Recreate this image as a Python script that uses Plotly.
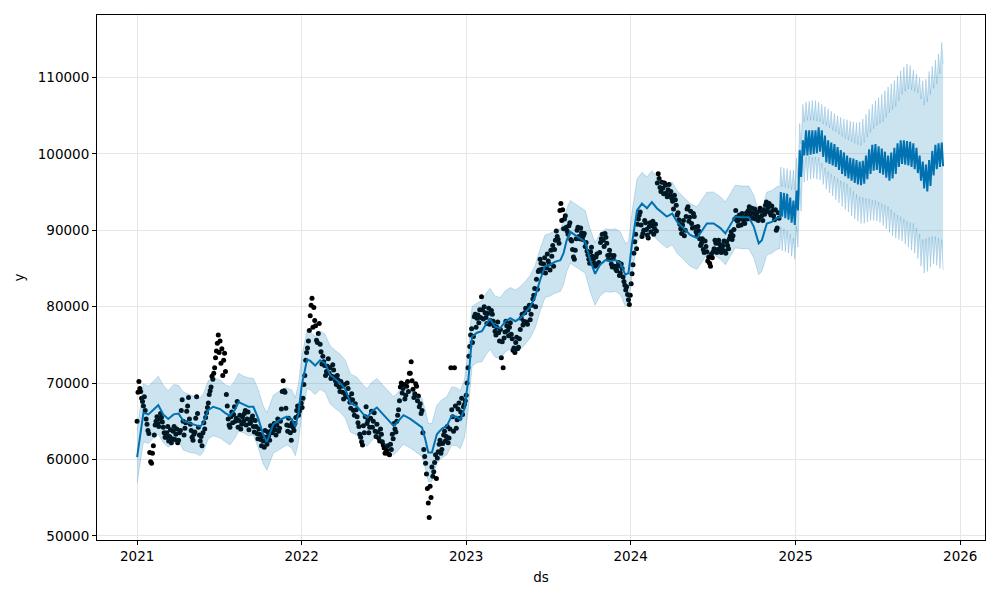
import pandas as pd
import plotly.graph_objects as go

# ---------------- observations ----------------
# series A: every 4 days from 2021-01-01
obs_start = "2021-01-01"
obs_step_days = 4
obs_y = [
    65000, 70200, 68900, 67600, 68200, 65300, 63800, 60900,
    59500, 61800, 64500, 65600, 64300, 66000, 64900, 63500,
    62900, 64300, 63000, 62200, 63700, 62600, 64000, 62500,
    63800, 67800, 63200, 64800, 67000, 65300, 63800, 62500,
    63600, 68200, 64200, 62400, 61800, 64800, 65500, 66800,
    68500, 69500, 70500, 72000, 74200, 76300, 75500, 74500,
    73000, 71500, 67000, 64500, 65600, 64800, 66900, 65400,
    64200, 65800, 64600, 65000, 66400, 65300, 63900, 64900,
    65700, 63600, 64300, 62700, 63300, 61800, 62400, 63800,
    62000, 63100, 64400, 63500, 64700, 63200, 65300, 64100,
    66600, 70300, 68800, 64500, 65400, 63500, 64800, 63800,
    65500, 67000, 66300, 67400,
    68000, 71000, 74000, 75500, 78800, 81100, 79900, 77500,
    75300, 77800, 74100, 73500, 72300, 71500, 73200, 72000,
    70900, 71700, 70300, 71000, 69500, 70200, 68800, 69800,
    68200, 69300, 67500, 68600, 66400, 67300, 65600, 64300,
    62900, 61900, 63500, 66900, 65100, 64200, 66300, 65000,
    63700, 64600, 62800, 64000, 62300, 61500, 60900, 61800,
    60600, 61300, 62700, 64000, 65000, 66500, 69500, 68700,
    69800, 68400, 70200, 71300, 72800, 69200, 68600, 69600,
    68300, 67300, 66400, 61300, 59500, 56200, 52400, 55000,
    57800, 59600, 57500, 61000, 62500, 61300, 63200, 62400,
    64300, 62800, 72000, 65600, 72000, 64100, 66600, 65400,
    68000, 66900, 67700,
    70000, 73500, 76300, 75300, 78700, 77300, 78900, 79600,
    81300, 78400, 79200, 77800, 79800, 78200, 79000, 77500,
    76300, 78000, 75500, 73300, 72000, 76700, 77500, 76200,
    77900, 75800, 74600, 75300, 74500, 75800, 78500, 77600,
    79200, 78000, 79600, 78300, 80200, 81500, 80000, 82300,
    84800, 85700, 84500, 86400, 85100, 86000, 84800, 86600,
    85300, 88700, 89200, 88300, 93500, 92700, 91500, 90400,
    89500, 91000, 88600, 86500, 87400, 90000, 89200, 90300,
    88800, 89600, 88400, 86800, 85700, 87800, 86200, 85300,
    86900, 85800, 88400, 89500, 87900, 89100, 86700, 87400,
    85600, 86300, 85300, 84700, 85800, 84400, 85000, 83300,
    82200, 81600, 80300,
    83000, 85500, 88500, 87600, 91500, 92400, 89200, 90000,
    91000, 89400, 90500, 89800, 91200, 90200, 89900, 97400,
    95600, 96300, 94800, 95900, 94400, 96000, 95100, 93800,
    94600, 93300, 92300, 90800, 89600, 91300, 90000, 92800,
    91200, 92500, 90300, 91800, 89800, 90500, 88900, 88300,
    87500, 88600, 87200, 86500, 85300, 86400, 87600, 88300,
    87500, 88200, 87100, 88000, 87300, 88500, 87600, 89300,
    88800, 90100, 92600, 91200, 92000, 90700, 91600, 90900,
    92300, 92600, 91900, 92900, 92200, 91500, 92400, 91700,
    92500, 91300, 92100, 93700, 93000, 92300, 93200, 91900,
    92700, 90300, 91600,
]
# series B: every 4 days from 2021-01-03 (the days in between)
obs_start_b = "2021-01-03"
obs_y_b = [
    68800, 69300, 68000, 67000, 66400, 64600, 63400, 59700,
    60800, 63200, 65000, 64700, 65300, 65500, 64200, 62900,
    63500, 62400, 63900, 62700, 64300, 63300, 62200, 63500,
    66400, 65000, 64100, 66300, 68100, 64600, 62900, 63300,
    65400, 66000, 63200, 63000, 63500, 64000, 66100, 67400,
    69000, 70900, 71300, 73300, 75200, 74000, 72600, 71000,
    73900, 68500, 65300, 64200, 66200, 65900, 65000, 67600,
    65100, 64000, 65600, 66000, 64500, 66200, 64700, 65400,
    64300, 65100, 63400, 64000, 62600, 63100, 61600, 62900,
    63600, 62500, 63800, 64200, 63900, 64500, 63700, 65000,
    68900, 69000, 66700, 63700, 64400, 62500, 64200, 64700,
    66400, 65800, 66700, 66800, 69800, 73000, 74600, 76900,
    80200, 77300, 78200, 75600, 76500, 75100, 72500, 72800,
    71000, 72200, 71300, 70600, 72400, 70800, 69800, 70400,
    68900, 69600, 67900, 68500, 70000, 68100, 66700, 67800,
    65800, 66500, 64800, 63300, 62300, 64400, 65600, 64700,
    63500, 65400, 64200, 66100, 63000, 63600, 62400, 63300,
    61900, 60800, 61200, 60700, 62000, 63300, 64700, 63600,
    65800, 67700, 70000, 69300, 67900, 69600, 68900, 71300,
    70300, 68100, 69900, 67700, 66900, 66000, 63500, 60400,
    58100, 54300, 56500, 59000, 58400, 60600, 60200, 62000,
    60800, 62100, 63700, 63000, 62200, 64000, 66500, 63700,
    67000, 65200, 67400, 66200, 65900, 67200, 68400, 72000,
    74800, 77100, 76100, 79000, 78500, 77900, 78600, 79600,
    80000, 78600, 79100, 77700, 79500, 78100, 76800, 77300,
    76600, 77000, 75400, 75900, 78100, 76900, 77300, 76400,
    74300, 74000, 76000, 74700, 77000, 79000, 78100, 79800,
    77700, 80200, 79000, 81000, 82400, 83600, 84600, 86200,
    84900, 85600, 84400, 86900, 85600, 87400, 88000, 87500,
    89900, 88800, 92600, 91300, 90200, 91900, 89900, 90600,
    88800, 87500, 86200, 88900, 90400, 88900, 89700, 89300,
    87900, 87300, 86200, 87200, 86600, 85700, 86500, 85500,
    87100, 88900, 88700, 89600, 88300, 86200, 86800, 85200,
    86700, 84900, 85300, 84100, 85600, 83900, 82800, 82600,
    80900, 81500, 84300, 87000, 89500, 90800, 92000, 90700,
    89600, 91300, 90100, 89000, 91000, 90600, 89500, 90800,
    96200, 96800, 95100, 95500, 96200, 94900, 95300, 94600,
    94200, 92800, 94000, 92000, 91400, 90200, 90700, 89300,
    91800, 93100, 91700, 90900, 92200, 90400, 89300, 89900,
    88000, 88900, 87100, 87900, 86000, 85700, 86900, 87200,
    88700, 87100, 88700, 87700, 87500, 88600, 87000, 88000,
    88900, 89800, 89300, 91500, 91700, 90600, 91500, 92200,
    91100, 91800, 91500, 93100, 92300, 91600, 92800, 92000,
    91300, 92900, 91900, 92700, 93300, 92500, 93500, 92000,
    92600, 91400, 90000, 92300,
]

# ---------------- in-sample forecast ----------------
hist_ds = [
    "2021-01-01", "2021-01-15", "2021-01-26", "2021-02-06", "2021-02-17", "2021-02-28",
    "2021-03-11", "2021-03-23", "2021-04-03", "2021-04-14", "2021-04-29", "2021-05-10",
    "2021-05-21", "2021-05-28", "2021-06-08", "2021-06-19", "2021-07-04", "2021-07-15",
    "2021-07-26", "2021-08-06", "2021-08-14", "2021-08-25", "2021-09-05", "2021-09-16",
    "2021-09-27", "2021-10-08", "2021-10-16", "2021-10-30", "2021-11-14", "2021-11-29",
    "2021-12-10", "2021-12-18", "2021-12-25",
    "2022-01-01", "2022-01-13", "2022-01-20", "2022-01-31", "2022-02-11", "2022-02-22",
    "2022-03-05", "2022-03-16", "2022-03-27", "2022-04-08", "2022-04-19", "2022-05-03",
    "2022-05-18", "2022-05-26", "2022-06-06", "2022-06-17", "2022-06-28", "2022-07-09",
    "2022-07-24", "2022-07-31", "2022-08-15", "2022-08-30", "2022-09-14", "2022-09-25",
    "2022-10-02", "2022-10-09", "2022-10-17", "2022-10-28", "2022-11-08", "2022-11-19",
    "2022-11-30", "2022-12-11", "2022-12-19", "2022-12-28",
    "2023-01-06", "2023-01-14", "2023-01-25", "2023-02-05", "2023-02-16", "2023-02-23",
    "2023-03-06", "2023-03-18", "2023-03-29", "2023-04-09", "2023-04-20", "2023-05-01",
    "2023-05-12", "2023-05-23", "2023-06-03", "2023-06-14", "2023-06-25", "2023-07-06",
    "2023-07-18", "2023-07-29", "2023-08-05", "2023-08-12", "2023-08-20", "2023-08-31",
    "2023-09-11", "2023-09-22", "2023-10-03", "2023-10-14", "2023-10-25", "2023-11-06",
    "2023-11-17", "2023-11-28", "2023-12-09", "2023-12-20", "2023-12-27",
    "2024-01-04", "2024-01-15", "2024-01-26", "2024-02-06", "2024-02-17", "2024-02-28",
    "2024-03-10", "2024-03-21", "2024-04-02", "2024-04-13", "2024-04-27", "2024-05-12",
    "2024-05-27", "2024-06-07", "2024-06-18", "2024-07-03", "2024-07-18", "2024-07-29",
    "2024-08-09", "2024-08-20", "2024-09-04", "2024-09-19", "2024-09-30", "2024-10-11",
    "2024-10-18", "2024-10-29", "2024-11-09", "2024-11-20", "2024-11-27",
]
hist_yhat = [
    60300, 66100, 65900, 66500, 67100, 65900, 65300, 65900, 66000, 65000, 64700, 64500,
    64300, 64800, 66500, 66900, 66600, 66100, 65700, 66500, 67500, 67200, 66900, 66900,
    65300, 63200, 62300, 64600, 65200, 65600, 65300, 64300, 66100,
    69600, 73100, 72900, 72300, 73000, 72600, 71100, 70500, 70000, 69200, 67400, 67000,
    65900, 65500, 66300, 66800, 66100, 65300, 64400, 64800, 65800, 65300, 64700, 64200,
    62700, 60900, 60900, 63300, 64000, 64400, 65700, 65600, 65200, 66600,
    70500, 76100, 76600, 76800, 77900, 78400, 77400, 77200, 78100, 78500, 78100, 78500,
    79200, 80000, 81300, 83500, 85300, 85500, 85900, 86100, 87000, 88700, 89800, 89400,
    89000, 88500, 86100, 84300, 85500, 86100, 86000, 86100, 85700, 84200, 84400,
    88300, 92600, 93500, 92900, 93700, 92900, 92400, 91800, 92200, 91100, 90300, 89400,
    89000, 90000, 90900, 90900, 90300, 89600, 90700, 91800, 91700, 91700, 90500, 88300,
    88700, 90900, 91100, 91600, 91700,
]
hist_upper = [
    63800, 69900, 69600, 70200, 70900, 69700, 69000, 69800, 69700, 68800, 68500, 68200,
    68100, 68600, 70300, 70700, 70400, 69800, 69500, 70300, 71300, 70900, 70700, 70600,
    69100, 67000, 66100, 68400, 69000, 69400, 69100, 68100, 69900,
    73400, 76900, 76700, 76100, 76800, 76400, 74900, 74300, 73800, 73000, 71200, 70800,
    69700, 69300, 70100, 70600, 69900, 69100, 68200, 68600, 69600, 69100, 68500, 68000,
    66500, 64700, 64700, 67100, 67800, 68200, 69500, 69400, 69000, 70400,
    74400, 80000, 80500, 80800, 81900, 82400, 81400, 81200, 82100, 82500, 82200, 82600,
    83300, 84100, 85400, 87600, 89400, 89600, 90000, 90200, 91100, 92800, 93900, 93500,
    93100, 92600, 90200, 88400, 89600, 90200, 90100, 90200, 89800, 88300, 88500,
    92400, 96700, 97600, 97000, 97800, 97000, 96500, 95900, 96300, 95200, 94400, 93500,
    93100, 94100, 95000, 95000, 94400, 93700, 94800, 95900, 95800, 95800, 94600, 92400,
    92800, 95000, 95200, 95700, 95800,
]
hist_lower = [
    56900, 62300, 62100, 62800, 63300, 62200, 61600, 62100, 62300, 61200, 60900, 60800,
    60500, 61000, 62700, 63100, 62800, 62400, 61900, 62800, 63700, 63500, 63100, 63200,
    61500, 59400, 58600, 60800, 61400, 61900, 61500, 60500, 62300,
    65800, 69300, 69100, 68500, 69200, 68800, 67300, 66700, 66200, 65400, 63600, 63200,
    62100, 61700, 62500, 63000, 62300, 61500, 60600, 61000, 62000, 61500, 60900, 60400,
    58900, 57100, 57100, 59500, 60200, 60600, 61900, 61800, 61400, 62800,
    66600, 72200, 72700, 72800, 73900, 74400, 73400, 73200, 74100, 74500, 74000, 74400,
    75100, 75900, 77200, 79400, 81200, 81400, 81800, 82000, 82900, 84600, 85700, 85300,
    84900, 84400, 82000, 80200, 81400, 82000, 81900, 82000, 81600, 80100, 80300,
    84200, 88500, 89400, 88800, 89600, 88800, 88300, 87700, 88100, 87000, 86200, 85300,
    84900, 85900, 86800, 86800, 86200, 85500, 86600, 87700, 87600, 87600, 86400, 84200,
    84600, 86800, 87000, 87500, 87600,
]

# ---------------- future forecast (weekly high / low values) ----------------
fut_start = "2024-11-28"
fut_yhat_hi = [
    95000, 94900, 94800, 94300, 93900, 95200, 100500, 101800, 103100, 103100,
    103100, 103100, 103500, 103100, 102400, 101800, 101500, 101300, 100900, 100500,
    100200, 99800, 99500, 99400, 99200, 99000, 99100, 99800, 100600, 101200,
    101300, 101000, 100700, 100300, 99800, 100200, 100800, 101400, 101800, 101800,
    101700, 101600, 101400, 100800, 99800, 99000, 98600, 99200, 100400, 101200,
    101400, 101500,
]
fut_yhat_lo = [
    91800, 91600, 91400, 91000, 90700, 92600, 97000, 99800, 99800, 99900,
    100000, 100100, 100300, 99600, 98900, 98700, 98500, 98300, 97900, 97400,
    97100, 96800, 96500, 96200, 96000, 95900, 96100, 96700, 97400, 97800,
    97900, 97500, 97300, 96900, 96500, 96800, 97400, 98300, 98700, 98600,
    98500, 98300, 98000, 97500, 96500, 95500, 95100, 95800, 97200, 98000,
    98300, 98400,
]
fut_upper_hi = [
    98300, 98200, 98100, 97900, 97900, 99500, 104000, 106500, 106800, 106900,
    107000, 107000, 106800, 106500, 106200, 105900, 105600, 105300, 105000, 104800,
    104600, 104500, 104300, 104200, 104100, 104200, 104600, 105200, 105900, 106500,
    107000, 107400, 107800, 108300, 108800, 109200, 109600, 110200, 110900, 111400,
    111800, 111600, 111000, 110500, 110000, 109600, 109800, 110800, 111500, 112300,
    113100, 114600,
]
fut_upper_lo = [
    95700, 95600, 95500, 95300, 95300, 96800, 101300, 104200, 104400, 104400,
    104400, 104300, 104200, 103900, 103700, 103400, 103100, 102900, 102600, 102300,
    102000, 101800, 101600, 101400, 101200, 101100, 101500, 102200, 102800, 103300,
    103700, 104000, 104200, 104800, 105400, 105800, 106200, 107000, 107800, 108200,
    108500, 108400, 108200, 108000, 107200, 106400, 106800, 107800, 108600, 109200,
    110500, 111800,
]
fut_lower_hi = [
    90400, 90200, 89900, 89500, 89000, 90500, 95500, 99300, 99600, 99700,
    99600, 99600, 99500, 98800, 98200, 97700, 97400, 97100, 96800, 96500,
    96300, 96100, 95600, 95100, 94700, 94400, 94300, 94200, 94100, 94000,
    93900, 93700, 93500, 93300, 93100, 92700, 92300, 92000, 91800, 91500,
    91200, 91000, 90900, 90300, 89500, 88800, 88900, 89100, 89200, 89200,
    89000, 88800,
]
fut_lower_lo = [
    87300, 87200, 87000, 86600, 86200, 87800, 92500, 96300, 96500, 96700,
    96800, 96700, 96600, 96000, 95400, 94900, 94500, 94000, 93600, 93100,
    92700, 92400, 91900, 91500, 91200, 90900, 90900, 91100, 91300, 91300,
    91200, 91000, 90600, 90200, 89700, 89300, 89000, 88800, 88600, 88200,
    87800, 87400, 87000, 86300, 85300, 84400, 84600, 85200, 85600, 85400,
    85000, 84800,
]

year_ticks = [2021, 2022, 2023, 2024, 2025, 2026]
y_ticks = [50000, 60000, 70000, 80000, 90000, 100000, 110000]

# ---------------- assemble ----------------
obs_ds_a = pd.date_range(obs_start, periods=len(obs_y), freq=f"{obs_step_days}D")
obs_ds_b = pd.date_range(obs_start_b, periods=len(obs_y_b), freq=f"{obs_step_days}D")
obs_ds = list(obs_ds_a) + list(obs_ds_b)
obs_all = obs_y + obs_y_b

base = pd.Timestamp(fut_start)
fut_ds, fut_yhat, fut_upper, fut_lower = [], [], [], []
for k in range(len(fut_yhat_hi)):
    fut_ds += [base + pd.Timedelta(days=7 * k + 1), base + pd.Timedelta(days=7 * k + 4)]
    fut_yhat += [fut_yhat_hi[k], fut_yhat_lo[k]]
    fut_upper += [fut_upper_hi[k], fut_upper_lo[k]]
    fut_lower += [fut_lower_hi[k], fut_lower_lo[k]]

all_ds = list(pd.to_datetime(hist_ds)) + fut_ds
all_yhat = hist_yhat + fut_yhat
all_upper = hist_upper + fut_upper
all_lower = hist_lower + fut_lower

BLUE = "#0072B2"
BAND = "rgba(0,114,178,0.2)"
FONT = "DejaVu Sans"

fig = go.Figure()
fig.add_trace(go.Scatter(x=obs_ds, y=obs_all, mode="markers",
                         marker=dict(color="black", size=5), showlegend=False))
fig.add_trace(go.Scatter(x=all_ds, y=all_yhat, mode="lines",
                         line=dict(color=BLUE, width=2), showlegend=False))
fig.add_trace(go.Scatter(x=all_ds, y=all_upper, mode="lines",
                         line=dict(color=BAND, width=1), showlegend=False))
fig.add_trace(go.Scatter(x=all_ds, y=all_lower, mode="lines", fill="tonexty",
                         fillcolor=BAND, line=dict(color=BAND, width=1), showlegend=False))

axis_common = dict(
    showgrid=True, gridcolor="#e6e6e6", gridwidth=1,
    showline=True, linecolor="black", linewidth=1, mirror=True,
    ticks="outside", ticklen=4, tickcolor="black", tickwidth=1,
    zeroline=False, automargin=False,
    tickfont=dict(family=FONT, size=13.5, color="black"),
)

fig.update_layout(
    width=1000, height=600,
    margin=dict(l=97, r=15, t=15, b=60),
    paper_bgcolor="white", plot_bgcolor="white",
    font=dict(family=FONT, size=13.5, color="black"),
    hovermode=False,
    xaxis=dict(
        **axis_common,
        type="date",
        range=["2020-10-04", "2026-02-25"],
        tickvals=[f"{y}-01-01" for y in year_ticks],
        ticktext=[str(y) for y in year_ticks],
        title=dict(text="ds", font=dict(family=FONT, size=13.5, color="black"), standoff=9),
    ),
    yaxis=dict(
        **axis_common,
        range=[49450, 118200],
        tickvals=y_ticks,
        ticktext=[str(v) for v in y_ticks],
        title=dict(text="y", font=dict(family=FONT, size=13.5, color="black"), standoff=10),
    ),
)

fig.write_html("out.html")
